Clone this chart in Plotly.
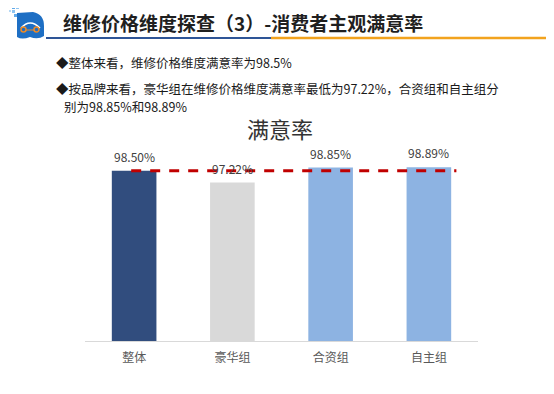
import plotly.graph_objects as go

categories = ["整体", "豪华组", "合资组", "自主组"]
values = [98.50, 97.22, 98.85, 98.89]
value_labels = ["98.50%", "97.22%", "98.85%", "98.89%"]
bar_colors = ["#314D7E", "#D9D9D9", "#8DB3E2", "#8DB3E2"]
overall_value = 98.50
y_min, y_max = 80, 100

chart_title = "满意率"
page_title = "维修价格维度探查（3）-消费者主观满意率"
bullets = [
    "◆整体来看，维修价格维度满意率为98.5%",
    "◆按品牌来看，豪华组在维修价格维度满意率最低为97.22%，合资组和自主组分",
    "别为98.85%和98.89%",
]

W_PX, H_PX = 554, 394
OFF = 8  # page body margin
# plot area in screen pixels
SL, SR, ST, SB = 85, 478, 157, 341
L, T = SL - OFF, ST - OFF
R = W_PX - (SR - OFF)
B = H_PX - (SB - OFF)
PW, PH = SR - SL, SB - ST
CJK = "Noto Sans CJK SC"


def px(x):
    return (x - SL) / PW


def py(y):
    return (SB - y) / PH


fig = go.Figure()
fig.add_trace(go.Bar(
    x=categories, y=values, marker_color=bar_colors,
    marker_line_width=0, hoverinfo="skip", showlegend=False,
))

annotations = []
for c, v, t in zip(categories, values, value_labels):
    annotations.append(dict(x=c, y=v, text=t, showarrow=False, xref="x", yref="y",
                            yanchor="bottom", yshift=4,
                            font=dict(family=CJK, size=12, color="#404040")))

# chart title
annotations.append(dict(x=px(280), y=py(128), xref="paper", yref="paper", text=chart_title,
                        showarrow=False, xanchor="center", yanchor="middle",
                        font=dict(family=CJK, size=22, color="#333333")))
# page title
annotations.append(dict(x=px(61), y=py(22.5), xref="paper", yref="paper",
                        text="<b>" + page_title + "</b>", showarrow=False,
                        xanchor="left", yanchor="middle",
                        font=dict(family=CJK, size=19, color="#1F1F1F")))
# bullets
bullet_pos = [(54, 63), (54, 88), (62, 106)]
for (bx, by), txt in zip(bullet_pos, bullets):
    annotations.append(dict(x=px(bx), y=py(by), xref="paper", yref="paper", text=txt,
                            showarrow=False, xanchor="left", yanchor="middle",
                            font=dict(family=CJK, size=12.5, color="#1A1A1A")))

shapes = [
    # overall reference line
    dict(type="line", xref="x", yref="y", x0=-0.03, x1=3.28, y0=overall_value, y1=overall_value,
         line=dict(color="#C00000", width=3, dash="10px,9px")),
    # header rules
    dict(type="line", xref="paper", yref="paper", x0=px(46), x1=px(271), y0=py(38), y1=py(38),
         line=dict(color="#2E5597", width=2)),
    dict(type="line", xref="paper", yref="paper", x0=px(271), x1=px(549), y0=py(38), y1=py(38),
         line=dict(color="#F2A31E", width=2.5)),
]


def rect(x0, y0, x1, y1, color):
    return dict(type="rect", xref="paper", yref="paper", x0=px(x0), x1=px(x1), y0=py(y0), y1=py(y1),
                fillcolor=color, line=dict(width=0))


# logo (approximation)
shapes += [
    dict(type="path", xref="paper", yref="paper",
         path=(f"M {px(17)},{py(13)} L {px(33)},{py(12)} Q {px(44)},{py(14)} {px(44)},{py(26)} "
               f"L {px(44)},{py(36)} Q {px(38)},{py(40)} {px(30)},{py(37)} Q {px(22)},{py(40)} {px(17)},{py(37)} Z"),
         fillcolor="#1E6FC4", line=dict(width=0)),
    rect(12, 6, 15, 9, "#5FA8E8"), rect(16, 6, 19, 9, "#8FC4F0"),
    rect(12, 10, 15, 13, "#8FC4F0"), rect(9, 10, 11, 12, "#B5D8F5"),
    rect(14, 14, 17, 17, "#5FA8E8"),
    dict(type="path", xref="paper", yref="paper",
         path=f"M {px(21)},{py(28)} Q {px(30)},{py(18)} {px(40)},{py(28)}",
         line=dict(color="#FFFFFF", width=1.5)),
    dict(type="circle", xref="paper", yref="paper", x0=px(21), x1=px(26), y0=py(27), y1=py(32),
         line=dict(color="#F08A24", width=1.5)),
    dict(type="circle", xref="paper", yref="paper", x0=px(34), x1=px(39), y0=py(27), y1=py(32),
         line=dict(color="#F08A24", width=1.5)),
    dict(type="line", xref="paper", yref="paper", x0=px(26), x1=px(34), y0=py(30), y1=py(30),
         line=dict(color="#F08A24", width=1)),
]

fig.update_layout(
    width=W_PX, height=H_PX,
    margin=dict(l=L, r=R, t=T, b=B, pad=0),
    paper_bgcolor="white", plot_bgcolor="white",
    bargap=0.546,
    annotations=annotations, shapes=shapes,
    xaxis=dict(showgrid=False, showline=True, linecolor="#D9D9D9", linewidth=1,
               ticks="", ticklabelstandoff=6, zeroline=False,
               tickfont=dict(family=CJK, size=12, color="#595959")),
    yaxis=dict(range=[y_min, y_max], visible=False, showgrid=False, zeroline=False),
    font=dict(family=CJK),
)

fig.write_html("out.html")
